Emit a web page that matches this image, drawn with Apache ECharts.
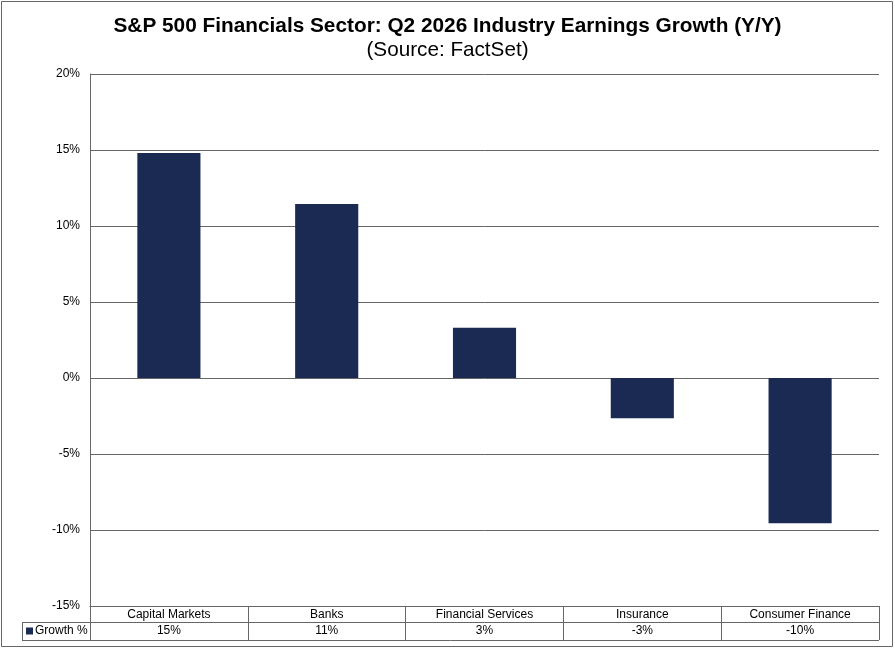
<!DOCTYPE html>
<html>
<head>
<meta charset="utf-8">
<script src="https://cdn.jsdelivr.net/npm/echarts@6/dist/echarts.min.js"></script>
<style>
  html, body { margin: 0; padding: 0; background: #fff; }
  #chart { width: 895px; height: 649px; }
</style>
</head>
<body>
<div id="chart"></div>
<script>
const categories = ['Capital Markets', 'Banks', 'Financial Services', 'Insurance', 'Consumer Finance']
const growth = [14.8, 11.45, 3.3, -2.65, -9.55]
const seriesName = 'Growth %'

const font = 'Liberation Sans, Arial, sans-serif'
const lineColor = '#666'
const barColor = '#1B2A53'

const chart = echarts.init(document.getElementById('chart'))

chart.setOption({
  animation: false,
  backgroundColor: '#fff',
  title: [
    {
      text: 'S&P 500 Financials Sector: Q2 2026 Industry Earnings Growth (Y/Y)',
      left: 'center',
      top: 11,
      textStyle: { fontFamily: font, fontSize: 20.8, fontWeight: 'bold', color: '#000' }
    },
    {
      text: '(Source: FactSet)',
      left: 'center',
      top: 35,
      textStyle: { fontFamily: font, fontSize: 20.7, fontWeight: 'normal', color: '#000' }
    }
  ],
  legend: {
    left: 26,
    top: 625,
    padding: 0,
    icon: 'rect',
    itemWidth: 7,
    itemHeight: 7,
    itemGap: 4,
    textStyle: { fontFamily: font, fontSize: 12, color: '#000', padding: [0, 0, 0, -3] },
    data: [seriesName]
  },
  grid: { left: 90, right: 16, top: 74, bottom: 43 },
  xAxis: [
    {
      type: 'category',
      data: categories,
      position: 'bottom',
      axisLine: { show: true, onZero: false, lineStyle: { color: lineColor } },
      axisTick: { show: true, length: 34, lineStyle: { color: lineColor } },
      axisLabel: { margin: 3, fontFamily: font, fontSize: 12, color: '#000' }
    },
    {
      type: 'category',
      data: categories,
      position: 'bottom',
      offset: 16,
      axisLine: { show: true, onZero: false, lineStyle: { color: lineColor } },
      axisTick: { show: false },
      axisLabel: {
        margin: 3,
        fontFamily: font,
        fontSize: 12,
        color: '#000',
        formatter: (v, i) => Math.round(growth[i]) + '%'
      }
    }
  ],
  yAxis: {
    type: 'value',
    min: -15,
    max: 20,
    interval: 5,
    axisLine: { show: true, lineStyle: { color: lineColor } },
    axisTick: { show: false },
    axisLabel: { margin: 10, fontFamily: font, fontSize: 12, color: '#000', formatter: '{value}%' },
    splitLine: { show: true, lineStyle: { color: lineColor, width: 1 } }
  },
  series: [
    {
      name: seriesName,
      type: 'bar',
      data: growth,
      barWidth: '40%',
      itemStyle: { color: barColor }
    }
  ],
  graphic: [
    // outer frame
    { type: 'rect', shape: { x: 1.5, y: 1.5, width: 891, height: 645 }, style: { fill: null, stroke: lineColor, lineWidth: 1 } },
    // data table lines for the legend cell and bottom
    { type: 'line', shape: { x1: 22, y1: 622.5, x2: 90, y2: 622.5 }, style: { stroke: lineColor, lineWidth: 1 } },
    { type: 'line', shape: { x1: 22, y1: 640.5, x2: 879, y2: 640.5 }, style: { stroke: lineColor, lineWidth: 1 } },
    { type: 'line', shape: { x1: 22.5, y1: 622, x2: 22.5, y2: 641 }, style: { stroke: lineColor, lineWidth: 1 } }
  ]
})
</script>
</body>
</html>
